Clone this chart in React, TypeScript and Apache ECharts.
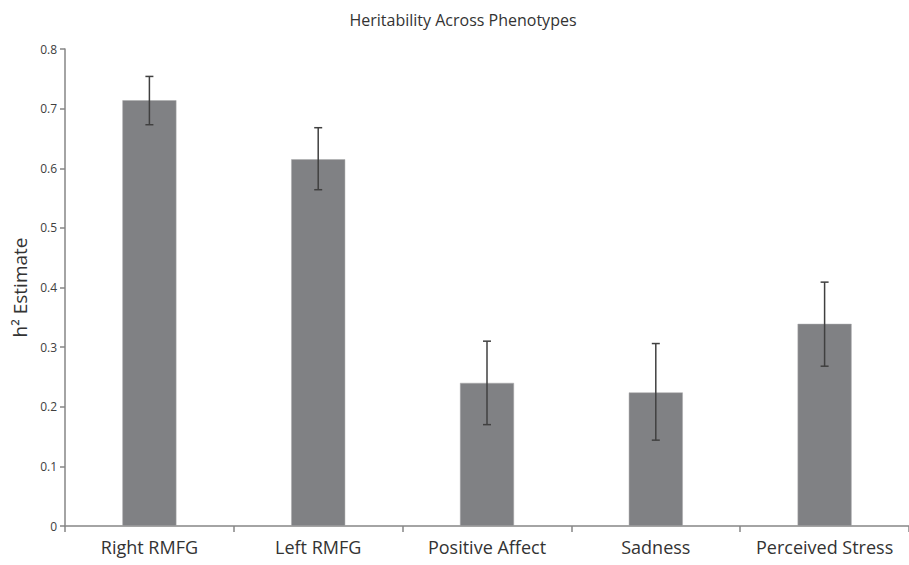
import React, { useEffect, useRef } from "react";
import * as echarts from "echarts";

const categories = ["Right RMFG", "Left RMFG", "Positive Affect", "Sadness", "Perceived Stress"];
const estimates = [0.714, 0.615, 0.24, 0.224, 0.339];
const errLow = [0.673, 0.564, 0.17, 0.144, 0.268];
const errHigh = [0.754, 0.668, 0.31, 0.306, 0.409];

const FONT = "Open Sans";

export default function App() {
  const ref = useRef<HTMLDivElement>(null);
  useEffect(() => {
    if (!ref.current) return;
    const chart = echarts.init(ref.current, null, { renderer: "svg" });
    chart.setOption({
      animation: false,
      backgroundColor: "#ffffff",
      title: {
        text: "Heritability Across Phenotypes",
        left: 458,
        top: 7,
        textAlign: "center",
        textStyle: { fontFamily: FONT, fontSize: 16, fontWeight: "normal", color: "#333333" },
      },
      grid: { left: 65, top: 49, bottom: 39, width: 849 },
      xAxis: {
        type: "category",
        data: categories,
        axisLine: { lineStyle: { color: "#868686", width: 1.5 } },
        axisTick: { show: true, interval: 0, length: 6, lineStyle: { color: "#868686", width: 1.5 } },
        axisLabel: { interval: 0, hideOverlap: false, fontFamily: FONT, fontSize: 18, color: "#333333", margin: 12 },
      },
      yAxis: {
        type: "value",
        min: 0,
        max: 0.8,
        interval: 0.1,
        name: "h² Estimate",
        nameLocation: "middle",
        nameGap: 36,
        nameTextStyle: { fontFamily: FONT, fontSize: 19, color: "#333333" },
        splitLine: { show: false },
        axisLine: { show: true, lineStyle: { color: "#868686", width: 1.5 } },
        axisTick: { show: true, length: 5, lineStyle: { color: "#868686", width: 1.5 } },
        axisLabel: { fontFamily: FONT, fontSize: 12, color: "#404040", margin: 8 },
      },
      series: [
        {
          type: "bar",
          data: estimates,
          barWidth: 54,
          itemStyle: { color: "#808184", borderColor: "#a8a9ab", borderWidth: 0.5 },
        },
        {
          type: "custom",
          data: categories.map((_, i) => [i, errLow[i], errHigh[i]]),
          z: 10,
          renderItem: (params: any, api: any) => {
            const x = api.value(0);
            const lo = api.coord([x, api.value(1)]);
            const hi = api.coord([x, api.value(2)]);
            const cap = 4;
            const style = { stroke: "#404040", lineWidth: 1.5 };
            return {
              type: "group",
              children: [
                { type: "line", shape: { x1: lo[0], y1: lo[1], x2: hi[0], y2: hi[1] }, style },
                { type: "line", shape: { x1: lo[0] - cap, y1: lo[1], x2: lo[0] + cap, y2: lo[1] }, style },
                { type: "line", shape: { x1: hi[0] - cap, y1: hi[1], x2: hi[0] + cap, y2: hi[1] }, style },
              ],
            };
          },
        },
      ],
    });
    return () => chart.dispose();
  }, []);
  return <div ref={ref} style={{ width: 909, height: 565, position: "absolute", left: 0, top: 0 }} />;
}
